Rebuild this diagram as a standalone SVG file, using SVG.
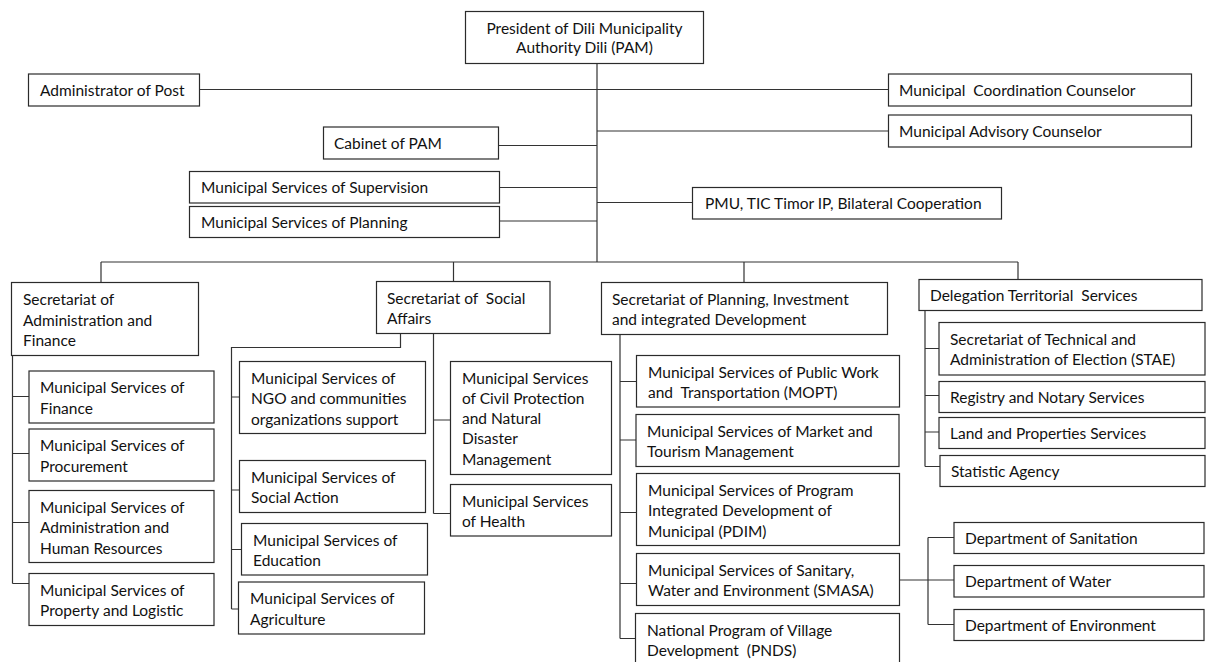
<svg xmlns="http://www.w3.org/2000/svg" width="1211" height="662" viewBox="0 0 1211 662">
<style>
.b{fill:#fff;stroke:#2b2b2b;stroke-width:1.2}
.t{font-family:Lato,"Liberation Sans",sans-serif;font-size:15.5px;fill:#111;white-space:pre}
.c{fill:none;stroke:#333;stroke-width:1.2}
</style>
<rect width="1211" height="662" fill="#fff"/>
<g id="connectors">
<path class="c" d="M597,63 V262 M199,89.5 H888.5 M597,131 H888.5 M498.5,145.5 H597 M499.5,187.5 H597 M499.5,221 H597 M597,202.5 H692.5"/>
<path class="c" d="M101,262 H1018 M101,262 V282.5 M453.5,262 V281.5 M744,262 V282.5 M1018,262 V279.5"/>
<path class="c" d="M12.5,355.5 V583.5 M12.5,396.5 H29 M12.5,453.5 H29 M12.5,522.5 H29 M12.5,583.5 H29"/>
<path class="c" d="M400.5,333.5 V347.5 H231.5 V609 M231.5,397 H239.5 M231.5,490 H239.5 M231.5,549.5 H241.5 M231.5,609 H238.5"/>
<path class="c" d="M433.5,333.5 V513.5 M433.5,420 H450.5 M433.5,513.5 H450.5"/>
<path class="c" d="M620,334.5 V638.5 M620,381.5 H636.5 M620,440 H636 M620,512.5 H636.5 M620,583.5 H636.5 M620,638.5 H635.5"/>
<path class="c" d="M925,310.5 V466.5 M925,348.5 H939 M925,395.5 H939 M925,432 H939 M925,466.5 H940"/>
<path class="c" d="M899.5,580 H954 M928,537.5 V624.5 M928,537.5 H954 M928,624.5 H954"/>
</g>
<g id="president"><rect class="b" x="465.5" y="11.5" width="238" height="52"/><text class="t" x="584.5" y="34" text-anchor="middle">President of Dili Municipality</text><text class="t" x="584.5" y="53" text-anchor="middle">Authority Dili (PAM)</text></g>
<g id="admin-post"><rect class="b" x="28.5" y="74" width="171" height="32"/><text class="t" x="40" y="96">Administrator of Post</text></g>
<g id="coordination"><rect class="b" x="888.5" y="74" width="303" height="32"/><text class="t" x="899" y="96">Municipal  Coordination Counselor</text></g>
<g id="advisory"><rect class="b" x="888.5" y="115" width="303" height="32"/><text class="t" x="899" y="137">Municipal Advisory Counselor</text></g>
<g id="cabinet"><rect class="b" x="323.5" y="127" width="175" height="32"/><text class="t" x="334" y="149">Cabinet of PAM</text></g>
<g id="supervision"><rect class="b" x="189.5" y="171.5" width="310" height="31.5"/><text class="t" x="201" y="193">Municipal Services of Supervision</text></g>
<g id="planning-svc"><rect class="b" x="189.5" y="206.5" width="310" height="31"/><text class="t" x="201" y="228">Municipal Services of Planning</text></g>
<g id="pmu"><rect class="b" x="692.5" y="187.5" width="309" height="31.5"/><text class="t" x="705" y="209">PMU, TIC Timor IP, Bilateral Cooperation</text></g>

<g id="sec-admin"><rect class="b" x="11.5" y="282.5" width="187" height="73"/><text class="t" x="23" y="305">Secretariat of</text><text class="t" x="23" y="325.5">Administration and</text><text class="t" x="23" y="346">Finance</text></g>
<g id="finance"><rect class="b" x="29" y="371" width="185" height="52"/><text class="t" x="40" y="393">Municipal Services of</text><text class="t" x="40" y="413.5">Finance</text></g>
<g id="procurement"><rect class="b" x="29" y="429" width="185" height="52"/><text class="t" x="40" y="451">Municipal Services of</text><text class="t" x="40" y="471.5">Procurement</text></g>
<g id="admin-hr"><rect class="b" x="29" y="490.5" width="185" height="72"/><text class="t" x="40" y="512.5">Municipal Services of</text><text class="t" x="40" y="533">Administration and</text><text class="t" x="40" y="553.5">Human Resources</text></g>
<g id="property"><rect class="b" x="29" y="573.5" width="185" height="52"/><text class="t" x="40" y="595.5">Municipal Services of</text><text class="t" x="40" y="616">Property and Logistic</text></g>

<g id="sec-social"><rect class="b" x="376.5" y="281.5" width="173.5" height="52"/><text class="t" x="387" y="303.5">Secretariat of  Social</text><text class="t" x="387" y="324">Affairs</text></g>
<g id="ngo"><rect class="b" x="239.5" y="361.5" width="186" height="72"/><text class="t" x="251" y="383.5">Municipal Services of</text><text class="t" x="251" y="404">NGO and communities</text><text class="t" x="251" y="424.5">organizations support</text></g>
<g id="social-action"><rect class="b" x="239.5" y="460.5" width="186" height="52"/><text class="t" x="251" y="482.5">Municipal Services of</text><text class="t" x="251" y="503">Social Action</text></g>
<g id="education"><rect class="b" x="241.5" y="523.5" width="186" height="51.5"/><text class="t" x="253" y="545.5">Municipal Services of</text><text class="t" x="253" y="566">Education</text></g>
<g id="agriculture"><rect class="b" x="238.5" y="582" width="186" height="52"/><text class="t" x="250" y="604">Municipal Services of</text><text class="t" x="250" y="624.5">Agriculture</text></g>
<g id="civil"><rect class="b" x="450.5" y="361.5" width="161" height="113"/><text class="t" x="462" y="383.5">Municipal Services</text><text class="t" x="462" y="403.8">of Civil Protection</text><text class="t" x="462" y="424.1">and Natural</text><text class="t" x="462" y="444.4">Disaster</text><text class="t" x="462" y="464.7">Management</text></g>
<g id="health"><rect class="b" x="450.5" y="484.5" width="161" height="51.5"/><text class="t" x="462" y="506.5">Municipal Services</text><text class="t" x="462" y="527">of Health</text></g>

<g id="sec-planning"><rect class="b" x="601.5" y="282.5" width="286" height="52"/><text class="t" x="612" y="304.5">Secretariat of Planning, Investment</text><text class="t" x="612" y="325">and integrated Development</text></g>
<g id="mopt"><rect class="b" x="636.5" y="355.5" width="263" height="51.5"/><text class="t" x="648" y="377.5">Municipal Services of Public Work</text><text class="t" x="648" y="398">and  Transportation (MOPT)</text></g>
<g id="market"><rect class="b" x="636" y="414.5" width="263" height="52"/><text class="t" x="647" y="436.5">Municipal Services of Market and</text><text class="t" x="647" y="457">Tourism Management</text></g>
<g id="pdim"><rect class="b" x="636.5" y="473.5" width="263" height="72"/><text class="t" x="648" y="495.5">Municipal Services of Program</text><text class="t" x="648" y="516">Integrated Development of</text><text class="t" x="648" y="536.5">Municipal (PDIM)</text></g>
<g id="smasa"><rect class="b" x="636.5" y="553.5" width="263" height="52"/><text class="t" x="648" y="575.5">Municipal Services of Sanitary,</text><text class="t" x="648" y="596">Water and Environment (SMASA)</text></g>
<g id="pnds"><rect class="b" x="635.5" y="613.5" width="264" height="60"/><text class="t" x="647" y="635.5">National Program of Village</text><text class="t" x="647" y="656">Development  (PNDS)</text></g>

<g id="delegation"><rect class="b" x="919" y="279.5" width="283" height="31"/><text class="t" x="930" y="301">Delegation Territorial  Services</text></g>
<g id="stae"><rect class="b" x="939" y="322.5" width="266" height="52.5"/><text class="t" x="950" y="344.5">Secretariat of Technical and</text><text class="t" x="950" y="365">Administration of Election (STAE)</text></g>
<g id="registry"><rect class="b" x="939" y="381.5" width="266" height="31"/><text class="t" x="950" y="403">Registry and Notary Services</text></g>
<g id="land"><rect class="b" x="939" y="417.5" width="266" height="31"/><text class="t" x="950" y="439">Land and Properties Services</text></g>
<g id="statistic"><rect class="b" x="940" y="455.5" width="265" height="31"/><text class="t" x="951" y="477">Statistic Agency</text></g>
<g id="sanitation"><rect class="b" x="954" y="522.5" width="250" height="31"/><text class="t" x="965" y="544">Department of Sanitation</text></g>
<g id="water"><rect class="b" x="954" y="565.5" width="250" height="31.5"/><text class="t" x="965" y="587">Department of Water</text></g>
<g id="environment"><rect class="b" x="954" y="609.5" width="250" height="31"/><text class="t" x="965" y="631">Department of Environment</text></g>
</svg>
